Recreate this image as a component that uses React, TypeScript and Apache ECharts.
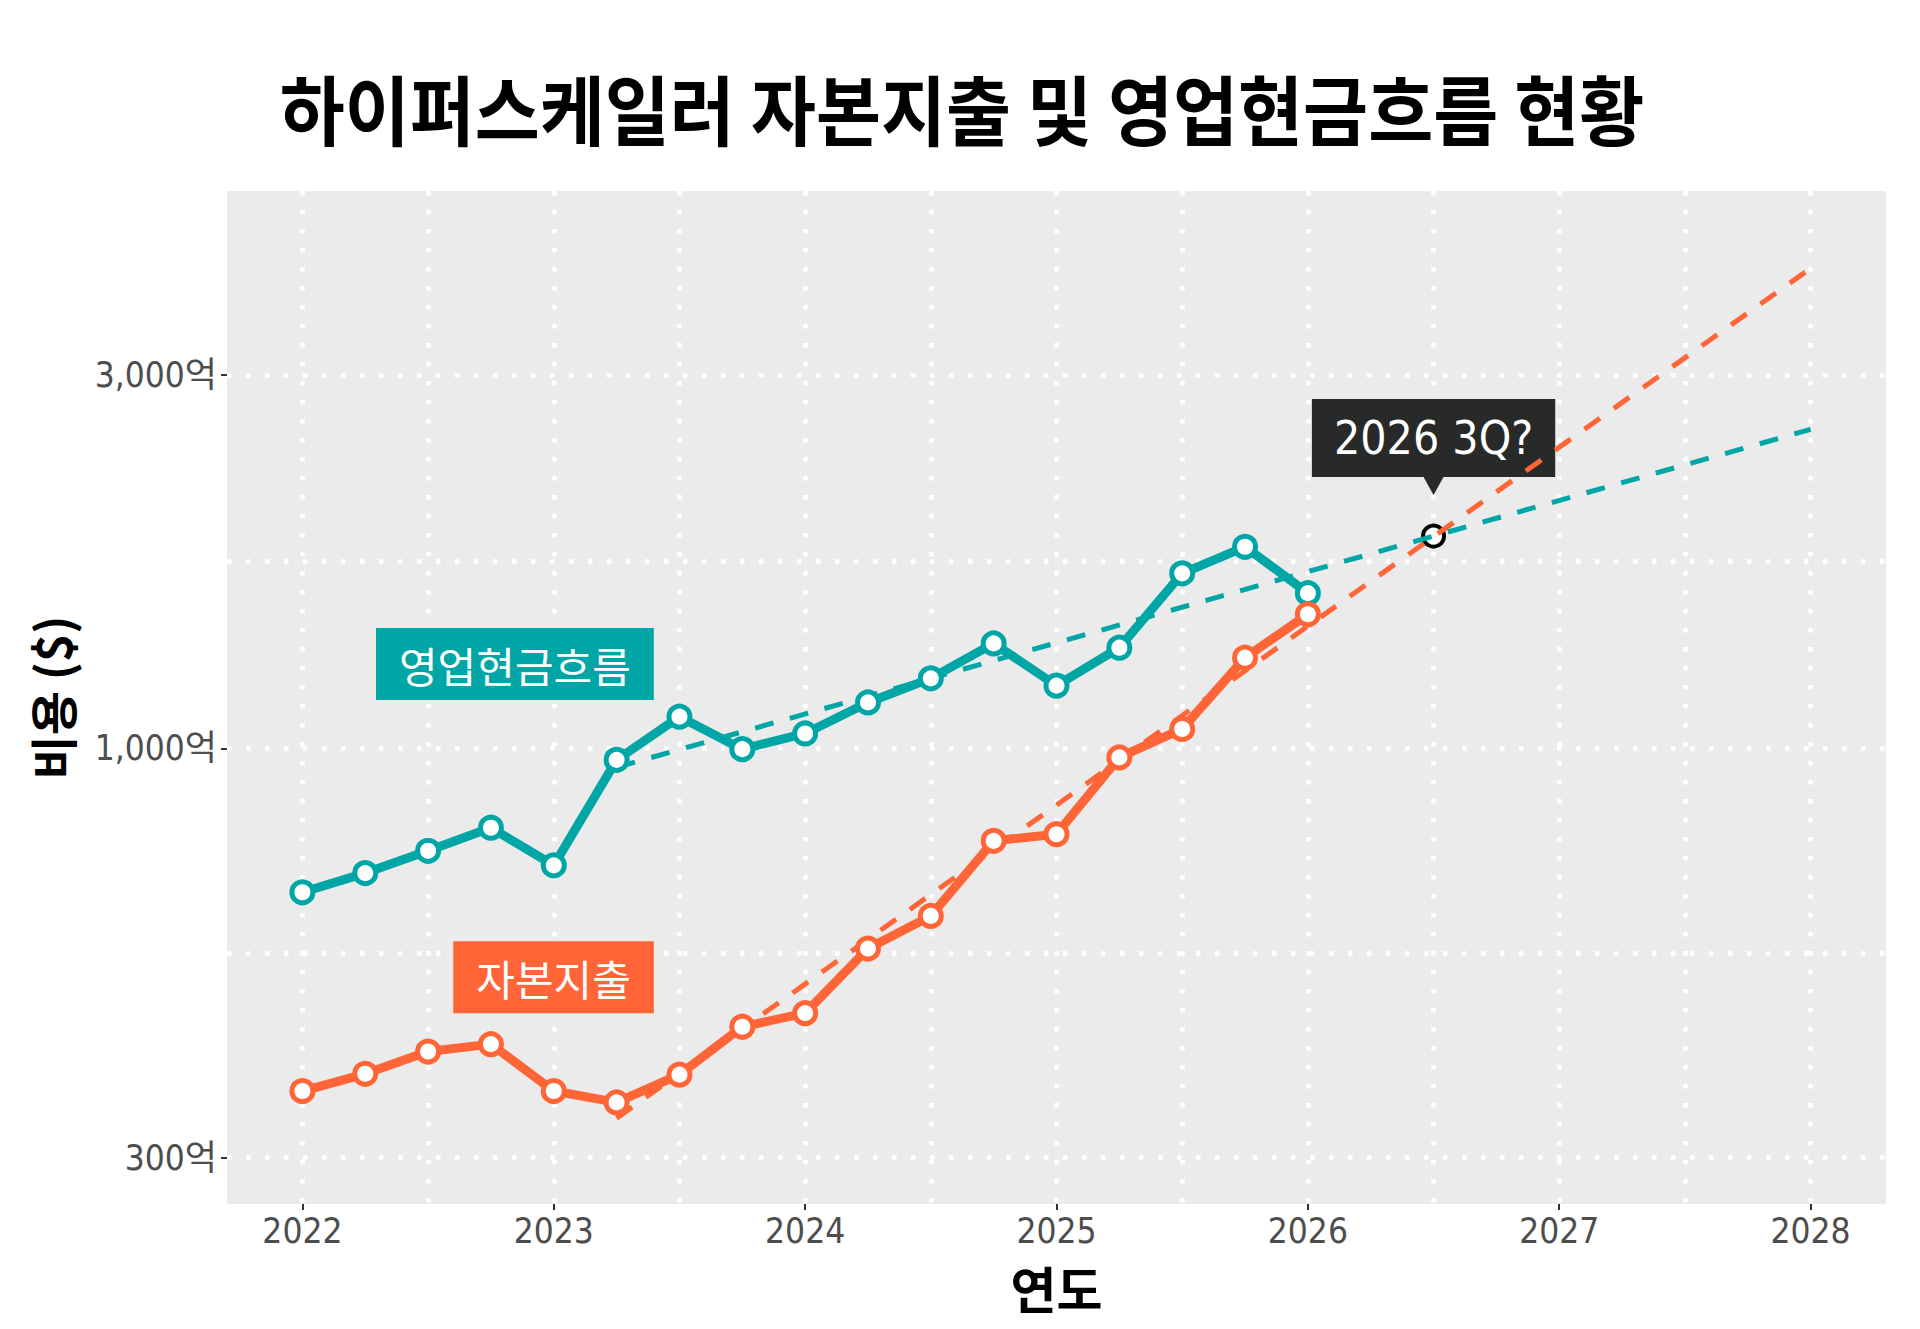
import React, { useEffect, useRef } from 'react';
import * as echarts from 'echarts';

// quarterly points, 2022 Q1 .. 2026 Q1 (억 달러, log scale)
const quarters = [
  2022, 2022.25, 2022.5, 2022.75, 2023, 2023.25, 2023.5, 2023.75, 2024,
  2024.25, 2024.5, 2024.75, 2025, 2025.25, 2025.5, 2025.75, 2026,
];
const cashFlow = [655, 693, 740, 792, 709, 967, 1098, 998, 1045, 1145, 1229, 1362, 1203, 1345, 1674, 1810, 1579];
const capex = [365, 384, 410, 419, 365, 353, 383, 441, 459, 555, 611, 762, 777, 974, 1059, 1306, 1484];

// fitted trend lines (start, end)
const cashFlowTrend = [[2023.25, 946], [2028, 2557]];
const capexTrend = [[2023.25, 337], [2028, 4106]];

// where the two trends meet
const crossPoint = [2026.5, 1868];
const crossLabel = '2026 3Q?';

// series name tags (anchored by their right edge)
const cashFlowTagAt = [2023.4, 1282];
const capexTagAt = [2023.4, 510];

const yearTicks = [2022, 2023, 2024, 2025, 2026, 2027, 2028];
const yearGrid = [2022, 2022.5, 2023, 2023.5, 2024, 2024.5, 2025, 2025.5, 2026, 2026.5, 2027, 2027.5, 2028];
const valueTicks = [300, 1000, 3000];
const valueGrid = [300, 548, 1000, 1732, 3000];

const TEAL = '#00A6A6';
const ORANGE = '#FF6536';
const NARROW = "'Liberation Sans Narrow', 'DejaVu Sans Condensed', 'Noto Sans CJK KR', sans-serif";
const KR = "'Noto Sans CJK KR', sans-serif";

const X_MIN = 2021.7;
const X_MAX = 2028.3;
const Y_MIN = 261.8;
const Y_MAX = 5155;

const App: React.FC = () => {
  const chartRef = useRef<HTMLDivElement>(null);

  useEffect(() => {
    if (!chartRef.current) return;
    const chart = echarts.init(chartRef.current, undefined, { renderer: 'svg' });

    const gridLine = {
      show: true,
      lineStyle: { color: '#ffffff', width: 4.5, type: [4.5, 14.5], cap: 'butt' },
    };

    const tagLabel = (text: string, color: string) => ({
      show: true,
      position: 'left',
      distance: 0,
      formatter: text,
      backgroundColor: color,
      color: '#ffffff',
      fontSize: 42,
      fontFamily: KR,
      lineHeight: 44,
      padding: [14, 23],
    });

    const option = {
      animation: false,
      backgroundColor: '#ffffff',
      grid: {
        left: 227,
        top: 191,
        right: 34,
        bottom: 125,
        show: true,
        backgroundColor: '#EBEBEB',
        borderWidth: 0,
        outerBoundsMode: 'none',
      },
      graphic: [
        {
          type: 'text',
          x: 962,
          y: 107,
          scaleX: 0.93,
          style: {
            text: '하이퍼스케일러 자본지출 및 영업현금흐름 현황',
            font: `bold 76px ${KR}`,
            fill: '#000000',
            textAlign: 'center',
            textVerticalAlign: 'middle',
          },
        },
      ],
      xAxis: [
        {
          type: 'value',
          position: 'top',
          min: X_MIN,
          max: X_MAX,
          axisLine: { show: false },
          axisTick: { show: false, customValues: yearGrid },
          axisLabel: { show: false },
          splitLine: gridLine,
        },
        {
          type: 'value',
          position: 'bottom',
          min: X_MIN,
          max: X_MAX,
          axisLine: { show: false },
          axisTick: { show: true, length: 6, customValues: yearTicks, lineStyle: { color: '#333333', width: 2 } },
          axisLabel: {
            customValues: yearTicks,
            formatter: (v: number) => String(Math.round(v)),
            color: '#4D4D4D',
            fontSize: 35,
            fontFamily: NARROW,
            margin: 9,
          },
          splitLine: { show: false },
          name: '연도',
          nameLocation: 'middle',
          nameGap: 58,
          nameTextStyle: { fontSize: 50, fontWeight: 'bold', color: '#000000', fontFamily: KR },
        },
      ],
      yAxis: [
        {
          type: 'log',
          position: 'right',
          min: Y_MIN,
          max: Y_MAX,
          axisLine: { show: false },
          axisTick: { show: false, customValues: valueGrid },
          axisLabel: { show: false },
          splitLine: gridLine,
        },
        {
          type: 'log',
          position: 'left',
          min: Y_MIN,
          max: Y_MAX,
          axisLine: { show: false },
          axisTick: { show: true, length: 6, customValues: valueTicks, lineStyle: { color: '#333333', width: 2 } },
          axisLabel: {
            customValues: valueTicks,
            formatter: (v: number) => Math.round(v).toLocaleString('en-US') + '억',
            color: '#4D4D4D',
            fontSize: 35,
            fontFamily: NARROW,
            margin: 10,
          },
          splitLine: { show: false },
          name: '비용 ($)',
          nameLocation: 'middle',
          nameRotate: 90,
          nameGap: 152,
          nameTextStyle: { fontSize: 48, fontWeight: 'bold', color: '#000000', fontFamily: KR },
        },
      ],
      series: [
        {
          name: 'capex trend',
          type: 'line',
          data: capexTrend,
          symbol: 'none',
          lineStyle: { color: ORANGE, width: 5, type: [19, 17] },
          silent: true,
        },
        {
          name: 'cash flow trend',
          type: 'line',
          data: cashFlowTrend,
          symbol: 'none',
          lineStyle: { color: TEAL, width: 5, type: [19, 17] },
          silent: true,
        },
        {
          name: '영업현금흐름',
          type: 'line',
          data: quarters.map((q, i) => [q, cashFlow[i]]),
          symbol: 'circle',
          symbolSize: 21,
          itemStyle: { color: '#ffffff', borderColor: TEAL, borderWidth: 5 },
          lineStyle: { color: TEAL, width: 9 },
          silent: true,
        },
        {
          name: '자본지출',
          type: 'line',
          data: quarters.map((q, i) => [q, capex[i]]),
          symbol: 'circle',
          symbolSize: 21,
          itemStyle: { color: '#ffffff', borderColor: ORANGE, borderWidth: 5 },
          lineStyle: { color: ORANGE, width: 9 },
          silent: true,
        },
        {
          name: 'tags',
          type: 'scatter',
          symbolSize: 1,
          itemStyle: { color: 'transparent', opacity: 1 },
          silent: true,
          data: [
            { value: cashFlowTagAt, label: tagLabel('영업현금흐름', TEAL) },
            { value: capexTagAt, label: tagLabel('자본지출', ORANGE) },
          ],
        },
        {
          name: 'cross',
          type: 'scatter',
          data: [crossPoint],
          symbol: 'circle',
          symbolSize: 21,
          itemStyle: { color: '#ffffff', borderColor: '#000000', borderWidth: 4, opacity: 1 },
          silent: true,
        },
        {
          name: 'callout',
          type: 'scatter',
          data: [crossPoint],
          symbol: 'path://M0,0L20,0L10,18Z',
          symbolSize: [20, 18],
          symbolOffset: [0, -50],
          itemStyle: { color: '#282A29', opacity: 1 },
          silent: true,
          label: {
            show: true,
            position: 'top',
            distance: 0,
            formatter: crossLabel,
            backgroundColor: '#282A29',
            color: '#ffffff',
            fontSize: 46,
            fontFamily: NARROW,
            lineHeight: 54,
            padding: [12, 22],
          },
        },
      ],
    };

    chart.setOption(option as any);

    const handleResize = () => chart.resize();
    window.addEventListener('resize', handleResize);
    return () => {
      window.removeEventListener('resize', handleResize);
      chart.dispose();
    };
  }, []);

  return (
    <div
      ref={chartRef}
      style={{ position: 'fixed', left: 0, top: 0, width: '1920px', height: '1329px' }}
    />
  );
};

export default App;
